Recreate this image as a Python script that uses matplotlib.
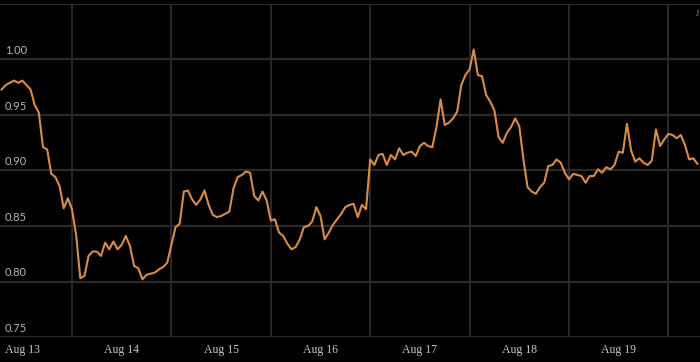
import matplotlib
matplotlib.use('Agg')
import matplotlib.pyplot as plt
import numpy as np
import pandas as pd

# hourly series, Aug 13 07:00 -> Aug 20 07:00
start = '2023-08-13 07:00'
values = [
    0.973, 0.977, 0.979, 0.981, 0.979, 0.981, 0.977, 0.973, 0.959, 0.952,
    0.921, 0.919, 0.897, 0.894, 0.886, 0.866, 0.875, 0.865, 0.842, 0.803,
    0.805, 0.823, 0.827, 0.827, 0.823, 0.835, 0.829, 0.836, 0.829, 0.833,
    0.841, 0.832, 0.814, 0.812, 0.802, 0.806, 0.807, 0.808, 0.811, 0.813,
    0.817, 0.833, 0.849, 0.852, 0.881, 0.882, 0.874, 0.869, 0.874, 0.882,
    0.869, 0.860, 0.858, 0.859, 0.861, 0.863, 0.884, 0.894, 0.896, 0.899,
    0.898, 0.877, 0.873, 0.881, 0.873, 0.855, 0.856, 0.844, 0.841, 0.834,
    0.829, 0.831, 0.838, 0.849, 0.850, 0.854, 0.867, 0.859, 0.838, 0.844,
    0.851, 0.856, 0.861, 0.867, 0.869, 0.870, 0.858, 0.869, 0.865, 0.910,
    0.905, 0.914, 0.915, 0.905, 0.914, 0.910, 0.920, 0.914, 0.916, 0.917,
    0.913, 0.922, 0.925, 0.922, 0.921, 0.939, 0.964, 0.941, 0.943, 0.947,
    0.953, 0.977, 0.986, 0.991, 1.009, 0.986, 0.985, 0.968, 0.962, 0.954,
    0.930, 0.925, 0.934, 0.939, 0.947, 0.940, 0.910, 0.885, 0.881, 0.879,
    0.885, 0.889, 0.904, 0.905, 0.910, 0.907, 0.898, 0.892, 0.897, 0.896,
    0.895, 0.889, 0.895, 0.895, 0.901, 0.898, 0.903, 0.901, 0.905, 0.917,
    0.916, 0.942, 0.918, 0.908, 0.911, 0.907, 0.905, 0.909, 0.937, 0.922,
    0.928, 0.933, 0.932, 0.929, 0.932, 0.923, 0.910, 0.911, 0.906,
]
times = pd.date_range(start, periods=len(values), freq='h')

day_labels = ['Aug 13', 'Aug 14', 'Aug 15', 'Aug 16', 'Aug 17', 'Aug 18', 'Aug 19']
y_ticks = [0.75, 0.80, 0.85, 0.90, 0.95, 1.00]

bg = '#000000'
grid_c = '#2a2a2a'
line_c = '#dc8b45'

fig = plt.figure(figsize=(7.0, 3.62), dpi=100, facecolor=bg)
ax = fig.add_axes([0, 25 / 362, 1, 333 / 362], facecolor=bg)

ax.plot(times, values, color=line_c, lw=1.5, solid_joinstyle='round')

ax.set_ylim(0.75, 1.05)
ax.set_xlim(pd.Timestamp('2023-08-13 06:37'), pd.Timestamp('2023-08-20 07:38'))

# grid: horizontal every 0.05, vertical at midnights
for yv in np.arange(0.75, 1.051, 0.05):
    ax.axhline(yv, color=grid_c, lw=1.6, zorder=0)
days = pd.date_range('2023-08-14', '2023-08-20', freq='D')
for d in days:
    ax.axvline(d, color=grid_c, lw=1.4, zorder=0)

ax.set_xticks([])
ax.set_yticks([])
for s in ax.spines.values():
    s.set_visible(False)

# y labels sit inside the plot, above their gridline
for yv in y_ticks:
    ax.text(0.007, yv + 0.003, f'{yv:.2f}', transform=ax.get_yaxis_transform(),
            ha='left', va='bottom', color='#b8b8b8', fontsize=8, family='Lato')

# x labels centred at noon of each day
for i, lab in enumerate(day_labels):
    t = pd.Timestamp('2023-08-13 12:00') + pd.Timedelta(days=i)
    ax.text(t, -0.04, lab, transform=ax.get_xaxis_transform(), ha='center', va='center',
            color='#c8c8c8', fontsize=8.5, family='Liberation Serif', clip_on=False)

fig.text(696 / 700, 1 - 14 / 362, 'J', color='#9a9a9a', fontsize=6,
         family='Liberation Serif', ha='left', va='center')

fig.savefig('out.png', dpi=100, facecolor=bg)
